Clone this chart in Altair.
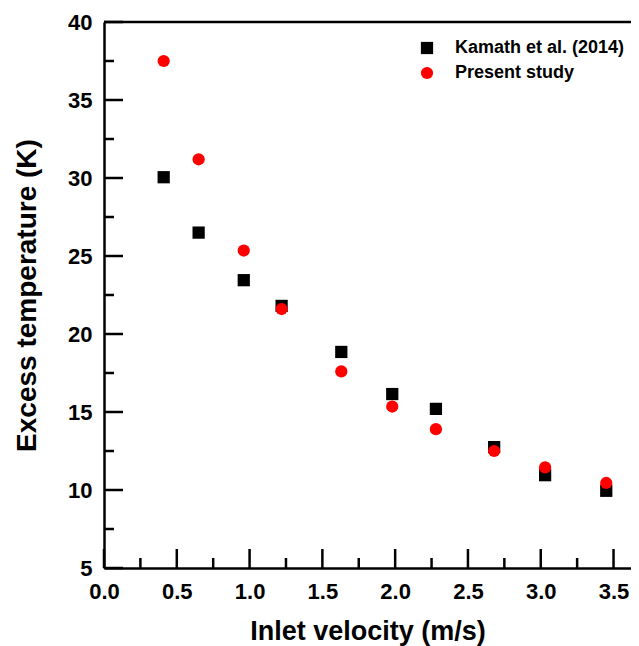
import altair as alt
import pandas as pd

velocity = [0.41, 0.65, 0.96, 1.22, 1.63, 1.98, 2.28, 2.68, 3.03, 3.45]
kamath = [30.05, 26.5, 23.45, 21.8, 18.85, 16.15, 15.2, 12.75, 10.95, 9.95]
present = [37.5, 31.2, 25.35, 21.6, 17.6, 15.35, 13.9, 12.5, 11.45, 10.45]
series_names = ["Kamath et al. (2014)", "Present study"]

x_major = [0.0, 0.5, 1.0, 1.5, 2.0, 2.5, 3.0, 3.5]
x_minor = [0.25, 0.75, 1.25, 1.75, 2.25, 2.75, 3.25]
y_major = [5, 10, 15, 20, 25, 30, 35, 40]
y_minor = [7.5, 12.5, 17.5, 22.5, 27.5, 32.5, 37.5]

FONT = "Liberation Sans"
W, H = 527, 546
x_dom = [0, 3.62]
y_dom = [5, 40]

rows = []
for v, k, p in zip(velocity, kamath, present):
    rows.append({"v": v, "t": k, "s": series_names[0]})
    rows.append({"v": v, "t": p, "s": series_names[1]})
df = pd.DataFrame(rows)

xs = alt.Scale(domain=x_dom, nice=False, zero=False)
ys = alt.Scale(domain=y_dom, nice=False, zero=False)

points = alt.Chart(df).mark_point(filled=True, opacity=1, size=150, strokeWidth=0).encode(
    x=alt.X("v:Q", scale=xs, title="Inlet velocity (m/s)",
            axis=alt.Axis(values=x_major, format=".1f", ticks=False, grid=False,
                          domainWidth=2.5, domainColor="black",
                          labelFont=FONT, labelFontSize=22, labelFontWeight="bold", labelColor="black",
                          labelPadding=13, labelFlush=False,
                          titleFont=FONT, titleFontSize=27, titleFontWeight="bold", titleColor="black",
                          titlePadding=16)),
    y=alt.Y("t:Q", scale=ys, title="Excess temperature (K)",
            axis=alt.Axis(values=y_major, ticks=False, grid=False,
                          domainWidth=2.5, domainColor="black",
                          labelFont=FONT, labelFontSize=22, labelFontWeight="bold", labelColor="black",
                          labelPadding=12,
                          titleFont=FONT, titleFontSize=28, titleFontWeight="bold", titleColor="black",
                          titlePadding=26)),
    shape=alt.Shape("s:N", scale=alt.Scale(domain=series_names, range=["square", "circle"]), title=None),
    color=alt.Color("s:N", scale=alt.Scale(domain=series_names, range=["black", "#ff0000"]), title=None,
                    legend=alt.Legend(orient="none", legendX=314, legendY=17, labelFont=FONT,
                                      labelFontSize=18, labelFontWeight="bold", labelColor="black",
                                      labelLimit=400,
                                      symbolSize=150, symbolStrokeWidth=0, labelOffset=19, rowPadding=7,
                                      padding=0)),
)

ymaj = alt.Chart(pd.DataFrame({"y": y_major})).mark_rule(color="black", strokeWidth=2.5).encode(
    y=alt.Y("y:Q", scale=ys), x=alt.value(0), x2=alt.value(19))
ymin = alt.Chart(pd.DataFrame({"y": y_minor})).mark_rule(color="black", strokeWidth=2.5).encode(
    y=alt.Y("y:Q", scale=ys), x=alt.value(0), x2=alt.value(10))
xmaj = alt.Chart(pd.DataFrame({"x": x_major})).mark_rule(color="black", strokeWidth=2.5).encode(
    x=alt.X("x:Q", scale=xs), y=alt.value(H), y2=alt.value(H - 19))
xmin = alt.Chart(pd.DataFrame({"x": x_minor})).mark_rule(color="black", strokeWidth=2.5).encode(
    x=alt.X("x:Q", scale=xs), y=alt.value(H), y2=alt.value(H - 10))
top = alt.Chart(pd.DataFrame({"y": [y_dom[1]]})).mark_rule(color="black", strokeWidth=2.5).encode(
    y=alt.Y("y:Q", scale=ys))

chart = alt.layer(ymaj, ymin, xmaj, xmin, top, points).properties(
    width=W, height=H,
    autosize=alt.AutoSizeParams(type="none"),
    padding={"left": 96, "top": 14, "right": 0, "bottom": 78},
    background="white",
).configure_view(stroke=None)

chart.save("out.html", embed_options={"renderer": "svg", "actions": False})
